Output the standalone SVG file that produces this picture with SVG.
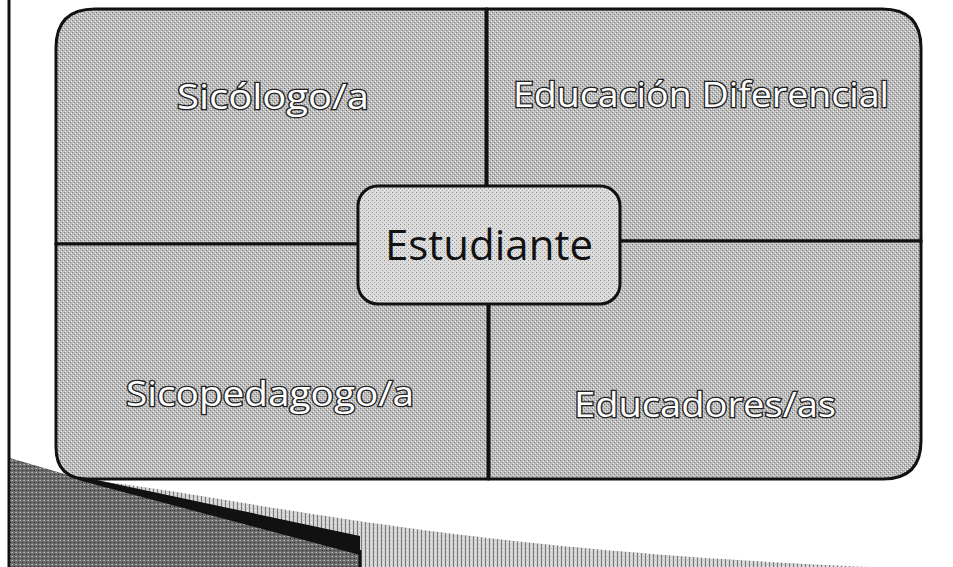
<svg xmlns="http://www.w3.org/2000/svg" width="953" height="567" viewBox="0 0 953 567">
  <defs>
    <pattern id="stip" width="4" height="4" patternUnits="userSpaceOnUse">
      <rect width="4" height="4" fill="#bdbdbd"/>
      <rect x="0" y="0" width="1" height="1" fill="#7a7a7a"/>
      <rect x="2" y="2" width="1" height="1" fill="#7a7a7a"/>
      <rect x="1" y="3" width="1" height="1" fill="#ececec"/>
      <rect x="3" y="1" width="1" height="1" fill="#ececec"/>
    </pattern>
    <pattern id="stipLight" width="4" height="4" patternUnits="userSpaceOnUse">
      <rect width="4" height="4" fill="#dcdcdc"/>
      <rect x="0" y="0" width="1" height="1" fill="#8a8a8a"/>
      <rect x="2" y="2" width="1" height="1" fill="#a0a0a0"/>
    </pattern>
    <pattern id="stipDark" width="4" height="4" patternUnits="userSpaceOnUse">
      <rect width="4" height="4" fill="#6a6a6a"/>
      <rect x="0" y="0" width="1" height="1" fill="#bdbdbd"/>
      <rect x="2" y="2" width="1" height="1" fill="#222"/>
      <rect x="3" y="0" width="1" height="1" fill="#999"/>
    </pattern>
    <pattern id="stipBand" width="4" height="4" patternUnits="userSpaceOnUse">
      <rect width="4" height="4" fill="#d2d2d2"/>
      <rect x="1" y="0" width="1" height="4" fill="#7a7a7a"/>
      <rect x="3" y="2" width="1" height="1" fill="#f4f4f4"/>
    </pattern>
  </defs>
  <style>
    .quad { fill: url(#stip); stroke: #111; stroke-width: 3; }
    .lbl { font-family: "Open Sans", "Liberation Sans", sans-serif; font-size: 35px; fill: #ffffff; stroke: #222; stroke-width: 2.6; paint-order: stroke; text-anchor: middle; }
    .center { fill: url(#stipLight); stroke: #111; stroke-width: 3; }
    .clbl { font-family: "Open Sans", "Liberation Sans", sans-serif; font-size: 42px; fill: #111; text-anchor: middle; }
  </style>
  <rect width="953" height="567" fill="#ffffff"/>

  <!-- page decoration -->
  <g id="decoration">
    <line x1="9" y1="0" x2="9" y2="567" stroke="#111" stroke-width="3"/>
    <path d="M90,480 C260,500 430,548 870,567 L360,567 Z" fill="url(#stipBand)"/>
    <path d="M10,458 L85,480 L360,552 L360,567 L10,567 Z" fill="url(#stipDark)"/>
    <path d="M78,476 L360,536 L360,555 L78,480 Z" fill="#111"/>
    <line x1="360" y1="550" x2="360" y2="567" stroke="#111" stroke-width="3"/>
  </g>

  <g id="quad-sicologo">
    <path class="quad" d="M56,48 Q56,9 95,9 L486,9 L486,244 L56,244 Z"/>
    <text class="lbl" x="273" y="109" textLength="192" lengthAdjust="spacingAndGlyphs">Sicólogo/a</text>
  </g>
  <g id="quad-educacion-diferencial">
    <path class="quad" d="M487,9 L882,9 Q921,9 921,48 L921,241 L487,241 Z"/>
    <text class="lbl" x="701" y="107" textLength="376" lengthAdjust="spacingAndGlyphs">Educación Diferencial</text>
  </g>
  <g id="quad-sicopedagogo">
    <path class="quad" d="M56,244 L488,244 L488,479 L88,479 Q56,479 56,447 Z"/>
    <text class="lbl" x="270" y="406" textLength="288" lengthAdjust="spacingAndGlyphs">Sicopedagogo/a</text>
  </g>
  <g id="quad-educadores">
    <path class="quad" d="M489,241 L921,241 L921,441 Q921,479 883,479 L489,479 Z"/>
    <text class="lbl" x="705" y="417" textLength="262" lengthAdjust="spacingAndGlyphs">Educadores/as</text>
  </g>

  <g id="node-estudiante">
    <rect class="center" x="358" y="186" width="262" height="118" rx="20" ry="20"/>
    <text class="clbl" x="489" y="260">Estudiante</text>
  </g>
</svg>
